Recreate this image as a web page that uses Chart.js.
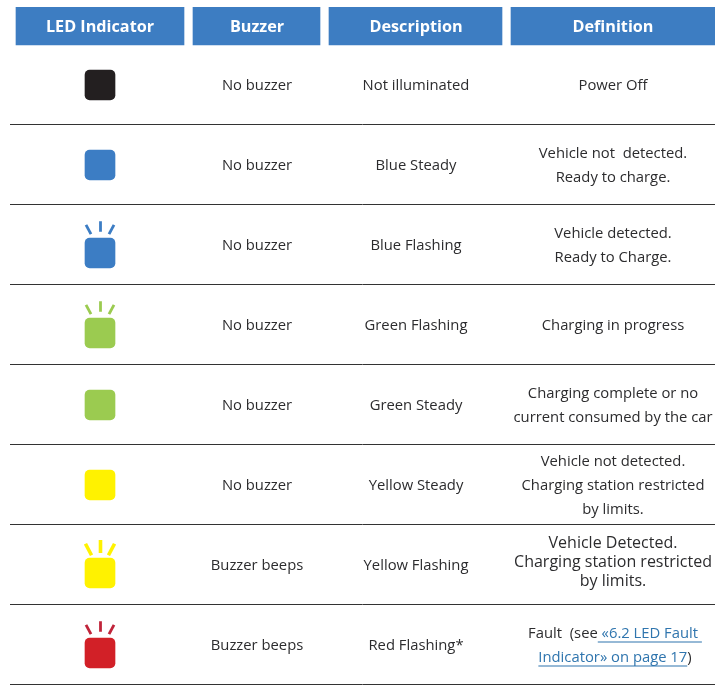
<!DOCTYPE html>
<html>
<head>
<meta charset="utf-8">
<title>LED Indicator</title>
<script src="https://cdn.jsdelivr.net/npm/chart.js@4/dist/chart.umd.min.js"></script>
<style>
    html, body { margin: 0; padding: 0; background: #fff; }
    canvas { display: block; }
</style>
</head>
<body>
<canvas id="ledChart" width="728" height="689"></canvas>
<script>
// Table content
const headers = ['LED Indicator', 'Buzzer', 'Description', 'Definition'];
const ledColors = ['#231f20', '#3c7dc4', '#3c7dc4', '#9bcb50', '#9bcb50', '#fff200', '#fff200', '#d22027'];
const rayColors = ['#231f20', '#3c7dc4', '#3c7dc4', '#9bcb50', '#9bcb50', '#fff200', '#fff200', '#c0243a'];
const flashing = [false, false, true, true, false, false, true, true];
const buzzers = ['No buzzer', 'No buzzer', 'No buzzer', 'No buzzer', 'No buzzer', 'No buzzer', 'Buzzer beeps', 'Buzzer beeps'];
const descriptions = ['Not illuminated', 'Blue Steady', 'Blue Flashing', 'Green Flashing', 'Green Steady', 'Yellow Steady', 'Yellow Flashing', 'Red Flashing*'];
const definitions = [
    ['Power Off'],
    ['Vehicle not  detected.', 'Ready to charge.'],
    ['Vehicle detected.', 'Ready to Charge.'],
    ['Charging in progress'],
    ['Charging complete or no', 'current consumed by the car'],
    ['Vehicle not detected.', 'Charging station restricted', 'by limits.'],
    ['Vehicle Detected.', 'Charging station restricted', 'by limits.'],
    []
];
// last definition has a link in it: [text, isLink]
const faultLines = [
    [['Fault  (see', false], [' «6.2 LED Fault ', true]],
    [['Indicator» on page 17', true], [')', false]]
];

// Layout (x scale runs in page pixels, y scale in table rows)
const columns = [[16, 184], [193, 320], [329, 502], [511, 715]];
const columnCenters = [100, 257, 416, 613];
const rowHeight = 80;
const firstRowPx = 84.5;
const toRows = px => px / rowHeight;
const headerRow = toRows(26 - firstRowPx);
const rowIndexes = ledColors.map((c, i) => i);

const font = '"Open Sans", "Noto Sans", sans-serif';
const textColor = '#2c2c2e';
const linkColor = '#2f75ae';

const headerBars = columns.map(c => ({ x: c, y: headerRow }));
const ledBars = rowIndexes.map(i => ({
    x: [85, 115],
    y: i + toRows(flashing[i] ? 8.5 : 0.5)
}));

// Three short rays above each flashing LED
const rayPoints = [], rayStroke = [], rayAngle = [], rayRadius = [], rayWidth = [];
rowIndexes.filter(i => flashing[i]).forEach(i => {
    const big = ledColors[i] === '#fff200';
    [[-11.5, -15, 62], [0.5, -18, 90], [11.5, -15, 118]].forEach(r => {
        rayPoints.push({ x: columnCenters[0] + r[0], y: i + toRows(r[1]) });
        rayStroke.push(rayColors[i]);
        rayAngle.push(r[2]);
        rayRadius.push(big ? 6.5 : 5.3);
        rayWidth.push(big ? 3.6 : 2.8);
    });
});

function drawCentered(ctx, parts, cx, y) {
    let total = 0;
    parts.forEach(p => { total += ctx.measureText(p[0]).width; });
    let x = cx - total / 2;
    parts.forEach(p => {
        const w = ctx.measureText(p[0]).width;
        ctx.fillStyle = p[1] ? linkColor : textColor;
        ctx.textAlign = 'left';
        ctx.fillText(p[0], x, y);
        if (p[1]) {
            ctx.fillRect(x, y + 8, w, 1);
        }
        x += w;
    });
}

const tableText = {
    id: 'tableText',
    afterDatasetsDraw(chart) {
        const ctx = chart.ctx;
        const xs = chart.scales.x;
        const ys = chart.scales.y;
        ctx.save();
        ctx.textBaseline = 'middle';
        ctx.textAlign = 'center';

        ctx.font = 'bold 16.2px ' + font;
        ctx.fillStyle = '#fff';
        headers.forEach((h, c) => {
            ctx.fillText(h, xs.getPixelForValue(columnCenters[c]), ys.getPixelForValue(headerRow) + 1.5);
        });

        ctx.font = '14.8px ' + font;
        ctx.fillStyle = textColor;
        rowIndexes.forEach(i => {
            const y = ys.getPixelForValue(i) + 1.5;
            ctx.fillText(buzzers[i], xs.getPixelForValue(columnCenters[1]), y);
            ctx.fillText(descriptions[i], xs.getPixelForValue(columnCenters[2]), y);

            const lines = definitions[i];
            const pitch = i === 6 ? 19 : 24;
            const shift = i === 6 ? -4 : 0;
            ctx.font = (i === 6 ? '16px ' : '14.8px ') + font;
            lines.forEach((line, n) => {
                const ly = y + shift + (n - (lines.length - 1) / 2) * pitch;
                ctx.fillText(line, xs.getPixelForValue(columnCenters[3]), ly);
            });
            ctx.font = '14.8px ' + font;
        });

        const faultY = ys.getPixelForValue(7) + 1;
        faultLines.forEach((parts, n) => {
            drawCentered(ctx, parts, xs.getPixelForValue(columnCenters[3] + 2), faultY + (n - 0.5) * 24);
        });
        ctx.restore();
    }
};

document.addEventListener('DOMContentLoaded', function () {
    new Chart(document.getElementById('ledChart'), {
        type: 'bar',
        plugins: [tableText],
        data: {
            datasets: [{
                data: headerBars,
                backgroundColor: '#3d7dc2',
                barThickness: 38,
                grouped: false
            }, {
                data: ledBars,
                backgroundColor: ledColors,
                barThickness: 30,
                borderRadius: 5,
                borderSkipped: false,
                grouped: false
            }, {
                type: 'scatter',
                data: rayPoints,
                showLine: false,
                pointStyle: 'line',
                pointRadius: rayRadius,
                pointRotation: rayAngle,
                pointBorderColor: rayStroke,
                pointBorderWidth: rayWidth
            }]
        },
        options: {
            indexAxis: 'y',
            responsive: false,
            animation: false,
            layout: { autoPadding: false, padding: { left: 10, right: 13, top: 7, bottom: 4.5 } },
            plugins: { legend: { display: false }, tooltip: { enabled: false } },
            scales: {
                x: {
                    type: 'linear',
                    min: 10,
                    max: 715,
                    display: false
                },
                y: {
                    type: 'linear',
                    reverse: true,
                    offset: false,
                    min: toRows(7 - firstRowPx),
                    max: 7.5,
                    border: { display: false },
                    ticks: { display: false },
                    grid: { offset: false, drawTicks: false, color: '#333', lineWidth: 1 },
                    afterBuildTicks(axis) {
                        axis.ticks = rowIndexes.map(i => ({ value: i + 0.5 }));
                    }
                }
            }
        }
    });
});
</script>
</body>
</html>
